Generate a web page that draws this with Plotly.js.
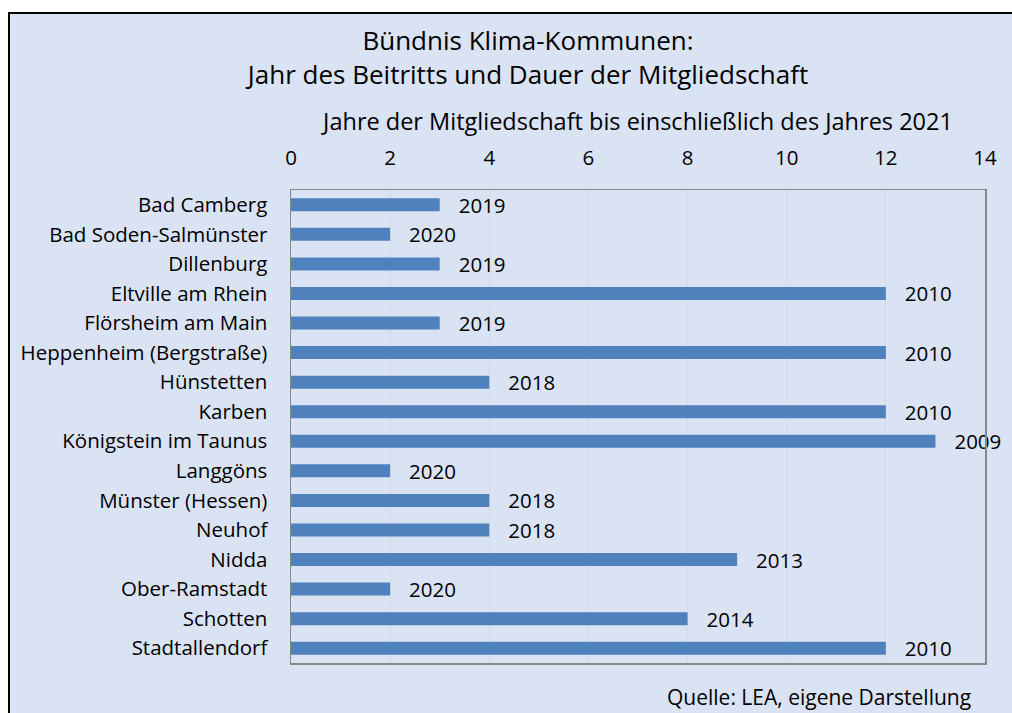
<!DOCTYPE html>
<html>
<head>
<meta charset="utf-8">
<script src="https://cdn.plot.ly/plotly-3.0.1.min.js"></script>
<style>
  html, body { margin: 0; padding: 0; background: #ffffff; }
  #frame { position: absolute; left: 8px; top: 12px; width: 1100px; height: 800px;
           background: #DAE3F3; border-left: 2px solid #000; border-top: 2px solid #000; }
  #chart { position: absolute; left: 0; top: 0; width: 1012px; height: 713px; }
</style>
</head>
<body>
<div id="frame"></div>
<div id="chart"></div>
<script>
const kommunen = [
  "Bad Camberg", "Bad Soden-Salmünster", "Dillenburg", "Eltville am Rhein",
  "Flörsheim am Main", "Heppenheim (Bergstraße)", "Hünstetten", "Karben",
  "Königstein im Taunus", "Langgöns", "Münster (Hessen)", "Neuhof",
  "Nidda", "Ober-Ramstadt", "Schotten", "Stadtallendorf"
];
const jahreMitgliedschaft = [3, 2, 3, 12, 3, 12, 4, 12, 13, 2, 4, 4, 9, 2, 8, 12];
const beitrittsjahr = ["2019", "2020", "2019", "2010", "2019", "2010", "2018", "2010",
                       "2009", "2020", "2018", "2018", "2013", "2020", "2014", "2010"];
const xTicks = [0, 2, 4, 6, 8, 10, 12, 14];

const FONT = "'Open Sans', 'Noto Sans', sans-serif";

const trace = {
  type: "bar",
  orientation: "h",
  y: kommunen,
  x: jahreMitgliedschaft,
  text: beitrittsjahr,
  texttemplate: "   %{text}",
  textposition: "outside",
  constraintext: "none",
  cliponaxis: false,
  textfont: { family: FONT, size: 20.5, color: "#000000" },
  marker: { color: "#4F81BD", line: { width: 0 } },
  hoverinfo: "skip"
};

const layout = {
  width: 1012,
  height: 713,
  paper_bgcolor: "rgba(0,0,0,0)",
  plot_bgcolor: "#DAE3F3",
  margin: { l: 291, r: 27, t: 190, b: 50, autoexpand: false },
  bargap: 0.56,
  showlegend: false,
  font: { family: FONT, color: "#000000" },
  title: {
    text: "Bündnis Klima-Kommunen:<br>Jahr des Beitritts und Dauer der Mitgliedschaft",
    font: { family: FONT, size: 26, color: "#000000", lineposition: "none" },
    x: 528 / 1012, xref: "container", xanchor: "center",
    y: 1 - 50 / 713, yref: "container", yanchor: "top"
  },
  xaxis: {
    side: "top",
    range: [0, 14],
    tickvals: xTicks,
    ticktext: xTicks.map(String),
    tickfont: { family: FONT, size: 20.5, color: "#000000" },
    ticks: "outside", ticklen: 15, tickcolor: "rgba(0,0,0,0)",
    showgrid: true, gridcolor: "#D9D9D9", gridwidth: 1,
    zeroline: false,
    showline: true, linecolor: "#868686", linewidth: 1.5, mirror: true,
    automargin: false,
    title: {
      text: "Jahre der Mitgliedschaft bis einschließlich des Jahres 2021",
      font: { family: FONT, size: 23.5, color: "#000000" },
      standoff: 6
    }
  },
  yaxis: {
    autorange: "reversed",
    type: "category",
    tickfont: { family: FONT, size: 20.5, color: "#000000" },
    ticks: "outside", ticklen: 18, tickcolor: "rgba(0,0,0,0)",
    showgrid: false, zeroline: false,
    showline: true, linecolor: "#868686", linewidth: 1.5, mirror: true,
    automargin: false
  },
  annotations: [{
    text: "Quelle: LEA, eigene Darstellung",
    xref: "paper", yref: "paper",
    x: (973 - 291) / (985 - 291), xanchor: "right",
    y: -(697 - 663) / (663 - 190), yanchor: "middle",
    showarrow: false,
    font: { family: FONT, size: 21, color: "#000000" }
  }]
};

Plotly.newPlot("chart", [trace], layout, { displayModeBar: false, staticPlot: true });
</script>
</body>
</html>
